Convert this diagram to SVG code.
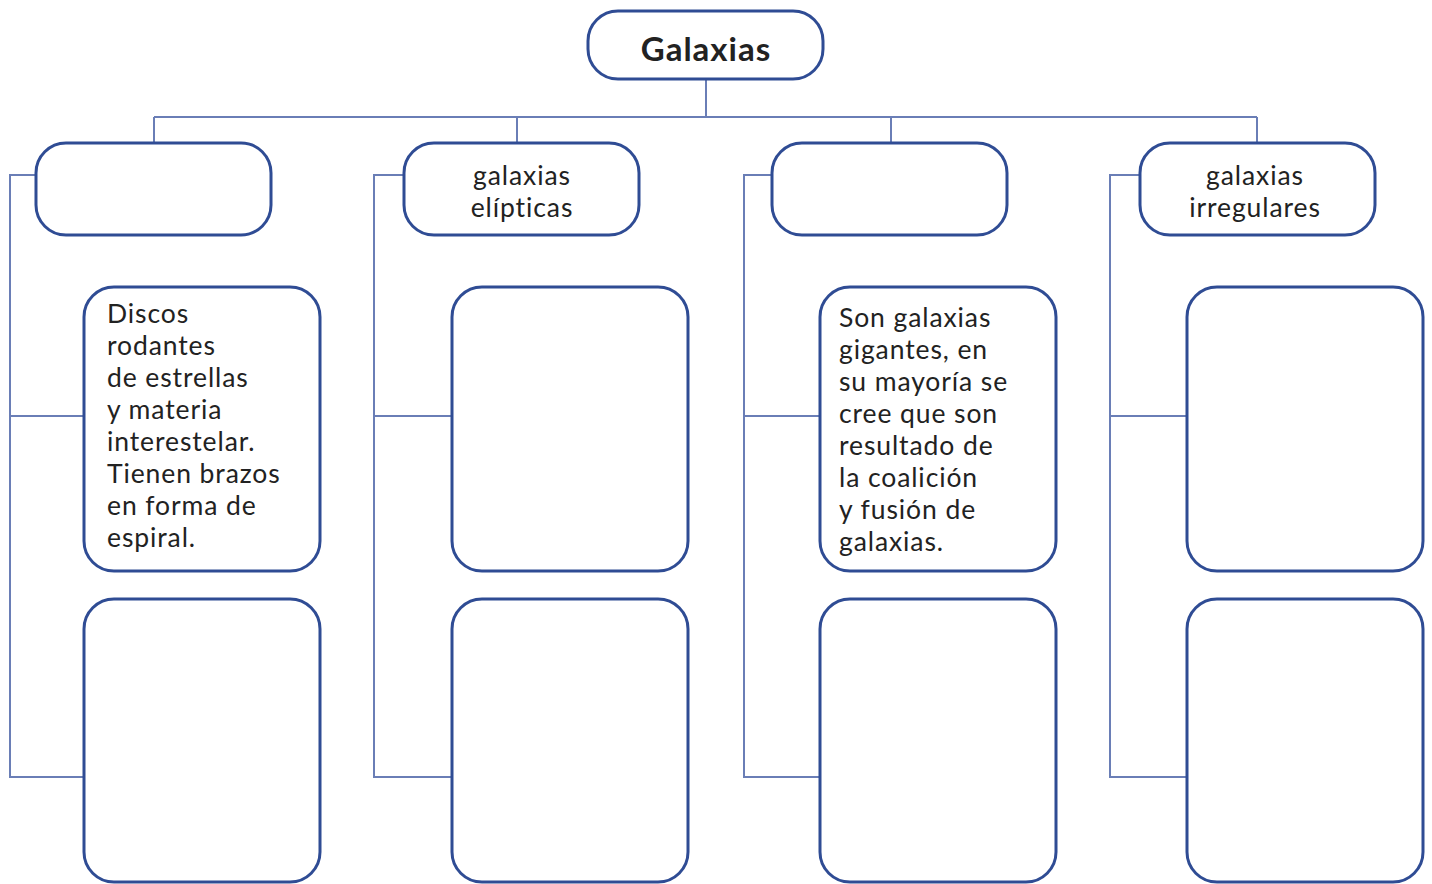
<svg xmlns="http://www.w3.org/2000/svg" width="1432" height="884" viewBox="0 0 1432 884">
<style>
.box{fill:#fff;stroke:#2f4c94;stroke-width:3}
.ln{fill:none;stroke:#6a7eb6;stroke-width:2}
.t{font-family:Lato,"Open Sans",sans-serif;font-size:26.5px;letter-spacing:0.9px;fill:#222}
.c{text-anchor:middle}
.h{font-family:Lato,"Open Sans",sans-serif;font-size:33px;font-weight:bold;letter-spacing:1px;fill:#222;text-anchor:middle}
</style>
<rect width="1432" height="884" fill="#fff"/>
<g id="connectors" class="ln">
<path d="M706 79V117M154 117H1257M154 117V143M517 117V143M891 117V143M1257 117V143"/>
<path d="M36 175H10V777H84M10 416H84"/>
<path d="M404 175H374V777H452M374 416H452"/>
<path d="M772 175H744V777H820M744 416H820"/>
<path d="M1140 175H1110V777H1187M1110 416H1187"/>
</g>
<g id="root"><rect class="box" x="588" y="11" width="235" height="68" rx="30"/><text class="h" x="706" y="61">Galaxias</text></g>
<g id="cat1"><rect class="box" x="36" y="143" width="235" height="92" rx="30"/></g>
<g id="cat2"><rect class="box" x="404" y="143" width="235" height="92" rx="30"/><text class="t c" x="522" y="185">galaxias</text><text class="t c" x="522" y="217">elípticas</text></g>
<g id="cat3"><rect class="box" x="772" y="143" width="235" height="92" rx="30"/></g>
<g id="cat4"><rect class="box" x="1140" y="143" width="235" height="92" rx="30"/><text class="t c" x="1255" y="185">galaxias</text><text class="t c" x="1255" y="217">irregulares</text></g>
<g id="d1a"><rect class="box" x="84" y="287" width="236" height="284" rx="30"/>
<text class="t" x="107" y="323">Discos</text><text class="t" x="107" y="355">rodantes</text><text class="t" x="107" y="387">de estrellas</text><text class="t" x="107" y="419">y materia</text><text class="t" x="107" y="451">interestelar.</text><text class="t" x="107" y="483">Tienen brazos</text><text class="t" x="107" y="515">en forma de</text><text class="t" x="107" y="547">espiral.</text></g>
<g id="d1b"><rect class="box" x="84" y="599" width="236" height="283" rx="30"/></g>
<g id="d2a"><rect class="box" x="452" y="287" width="236" height="284" rx="30"/></g>
<g id="d2b"><rect class="box" x="452" y="599" width="236" height="283" rx="30"/></g>
<g id="d3a"><rect class="box" x="820" y="287" width="236" height="284" rx="30"/>
<text class="t" x="839" y="327">Son galaxias</text><text class="t" x="839" y="359">gigantes, en</text><text class="t" x="839" y="391">su mayoría se</text><text class="t" x="839" y="423">cree que son</text><text class="t" x="839" y="455">resultado de</text><text class="t" x="839" y="487">la coalición</text><text class="t" x="839" y="519">y fusión de</text><text class="t" x="839" y="551">galaxias.</text></g>
<g id="d3b"><rect class="box" x="820" y="599" width="236" height="283" rx="30"/></g>
<g id="d4a"><rect class="box" x="1187" y="287" width="236" height="284" rx="30"/></g>
<g id="d4b"><rect class="box" x="1187" y="599" width="236" height="283" rx="30"/></g>
</svg>
